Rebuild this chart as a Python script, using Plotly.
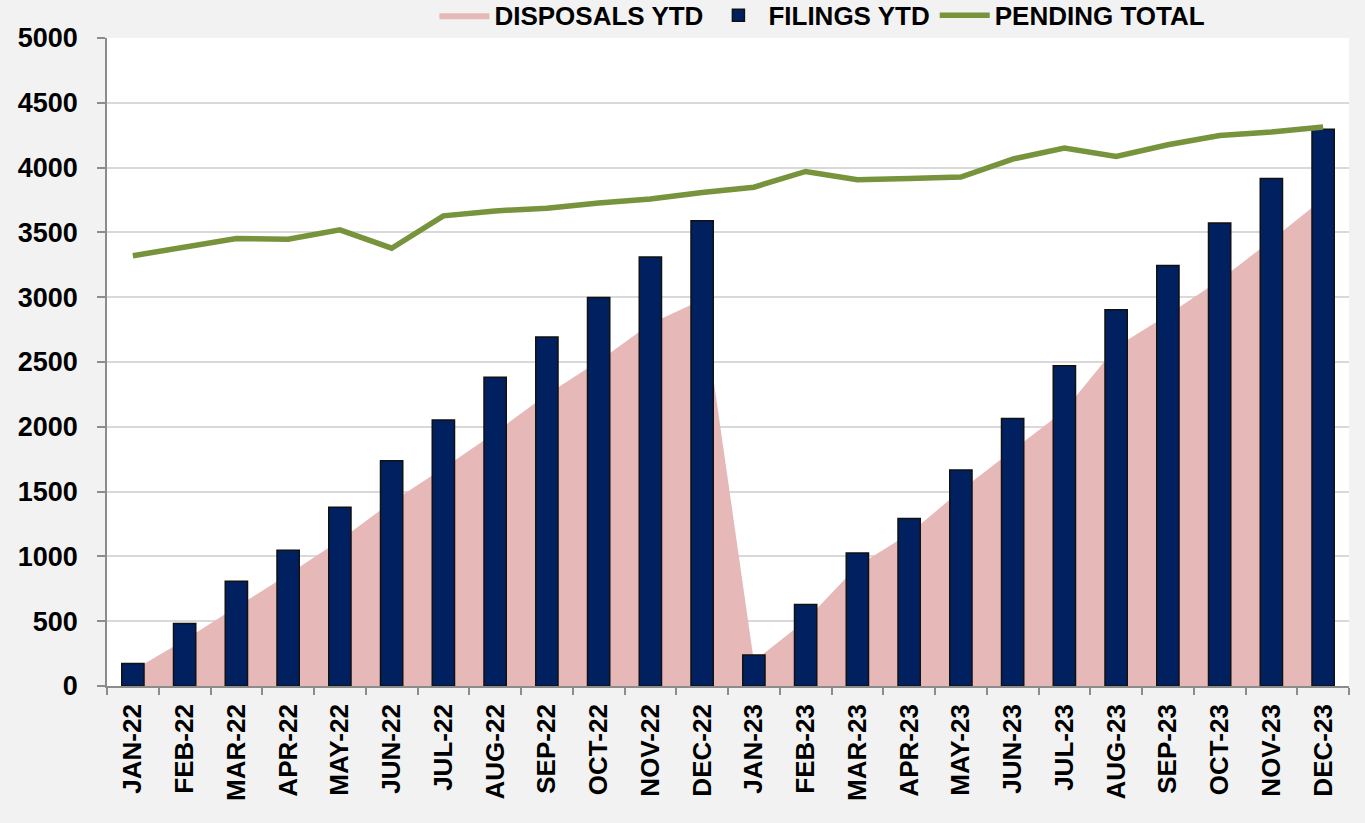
import plotly.graph_objects as go

months = ["JAN-22", "FEB-22", "MAR-22", "APR-22", "MAY-22", "JUN-22", "JUL-22", "AUG-22",
          "SEP-22", "OCT-22", "NOV-22", "DEC-22", "JAN-23", "FEB-23", "MAR-23", "APR-23",
          "MAY-23", "JUN-23", "JUL-23", "AUG-23", "SEP-23", "OCT-23", "NOV-23", "DEC-23"]

filings_ytd = [173, 482, 809, 1048, 1380, 1738, 2052, 2382, 2693, 2997, 3310, 3589,
               239, 629, 1027, 1293, 1666, 2065, 2472, 2904, 3244, 3572, 3916, 4296]

disposals_ytd = [120, 355, 610, 860, 1125, 1420, 1680, 1955, 2250, 2505, 2795, 2980,
                 190, 505, 925, 1175, 1510, 1815, 2125, 2615, 2865, 3130, 3440, 3760]

pending_total = [3320, 3387, 3453, 3448, 3520, 3378, 3628, 3666, 3687, 3726, 3757, 3808,
                 3849, 3970, 3906, 3916, 3927, 4066, 4151, 4086, 4176, 4248, 4274, 4313]

y_ticks = [0, 500, 1000, 1500, 2000, 2500, 3000, 3500, 4000, 4500, 5000]

FONT = "Liberation Sans, Arial, sans-serif"

fig = go.Figure()

fig.add_trace(go.Scatter(
    x=months, y=disposals_ytd, name="DISPOSALS YTD",
    mode="lines", line=dict(width=0, color="#e6b8b7"),
    fill="tozeroy", fillcolor="#e6b8b7",
    xaxis="x", yaxis="y",
))

fig.add_trace(go.Bar(
    x=months, y=filings_ytd, name="FILINGS YTD",
    marker=dict(color="#002060", line=dict(color="#111111", width=1.5)),
    xaxis="x", yaxis="y2",
))

fig.add_trace(go.Scatter(
    x=months, y=pending_total, name="PENDING TOTAL",
    mode="lines", line=dict(color="#77933c", width=5.5),
    xaxis="x", yaxis="y2",
))

fig.update_layout(
    width=1365, height=823,
    margin=dict(l=107, r=16, t=38, b=137, autoexpand=False),
    paper_bgcolor="#f2f2f2",
    plot_bgcolor="white",
    bargap=0.57,
    showlegend=True,
    legend=dict(
        orientation="h", x=0.576, xanchor="center", y=1.035, yanchor="middle",
        font=dict(family=FONT, size=26, color="black", weight="bold"),
        bgcolor="rgba(0,0,0,0)", traceorder="normal", itemwidth=50,
    ),
    xaxis=dict(
        type="category", categoryorder="array", categoryarray=months,
        showline=True, linecolor="#8c8c8c", linewidth=1.5,
        ticks="outside", tickson="boundaries", ticklen=7, tickcolor="#8c8c8c", tickwidth=1.5,
        tickangle=-90,
        tickfont=dict(family=FONT, size=26, color="black", weight="bold"),
        ticklabelstandoff=6,
        showgrid=False,
    ),
    yaxis=dict(
        range=[0, 5000], tickvals=y_ticks,
        showline=True, linecolor="#8c8c8c", linewidth=1.5,
        ticks="outside", ticklen=8, tickcolor="#8c8c8c", tickwidth=1.5,
        showgrid=True, gridcolor="#d9d9d9", gridwidth=2,
        zeroline=False,
        tickfont=dict(family=FONT, size=27, color="black", weight="bold"),
        ticklabelstandoff=14,
    ),
    yaxis2=dict(
        range=[0, 5000], overlaying="y", visible=False, showgrid=False, zeroline=False,
    ),
)

fig.write_html(
    "out.html",
    config={"displayModeBar": False},
    post_script="document.body.style.margin='0';document.body.style.overflow='hidden';"
                "document.body.style.background='#f2f2f2';",
)
